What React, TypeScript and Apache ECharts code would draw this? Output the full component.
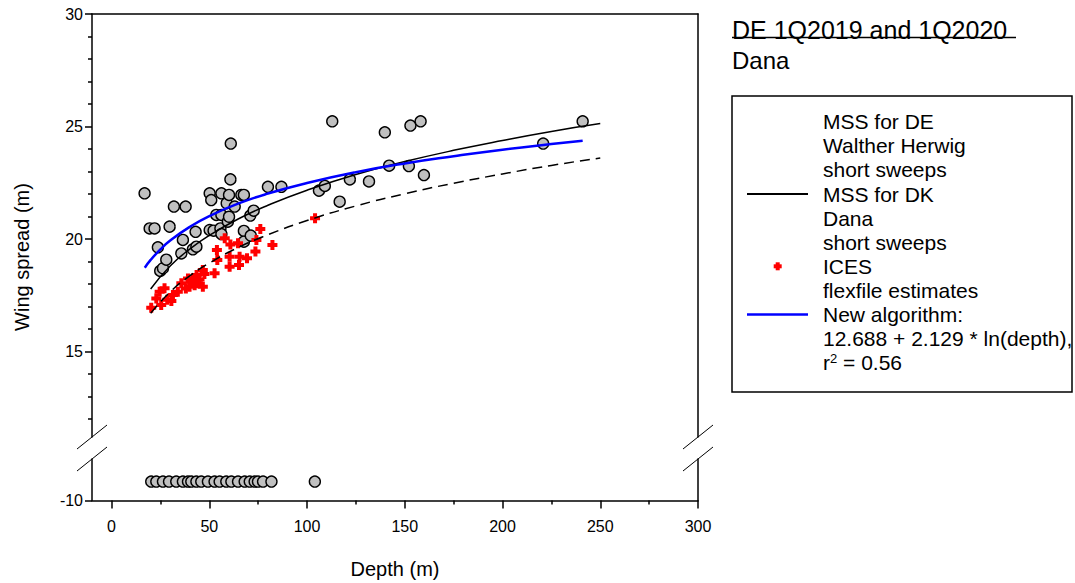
import React, { useEffect, useRef } from "react";
import * as echarts from "echarts";

// ---- data ----
// gray circles: measured wing spread by depth [depth (m), wing spread (m)]
const measuredDepth = [16.9, 19.5, 22.0, 23.7, 24.9, 26.3, 28.0, 29.7, 31.9, 35.7, 36.5, 37.9, 41.6, 43.0, 43.4, 50.2, 51.0, 50.2, 52.2, 53.6, 55.7, 56.2, 56.2, 56.2, 58.9, 59.5, 60.1, 60.1, 60.8, 61.0, 63.0, 66.4, 67.7, 67.7, 67.7, 71.0, 72.7, 71.2, 80.0, 86.9, 106.1, 109.1, 116.7, 112.9, 121.9, 131.7, 139.8, 142.0, 152.1, 152.9, 158.1, 159.8, 220.8, 241.0];
const measuredSpread = [22.03, 20.47, 20.47, 19.63, 18.58, 18.70, 19.08, 20.55, 21.44, 19.36, 19.96, 21.44, 19.54, 20.32, 19.66, 22.03, 21.73, 20.40, 20.37, 21.07, 20.47, 22.03, 21.07, 20.22, 21.59, 20.77, 21.96, 20.99, 22.65, 24.24, 21.44, 21.96, 21.96, 20.36, 19.88, 21.04, 21.26, 20.15, 22.32, 22.32, 22.15, 22.36, 21.66, 25.23, 22.65, 22.56, 24.74, 23.26, 23.24, 25.04, 25.23, 22.84, 24.24, 25.23];

// red crosses: ICES flexfile estimates
const icesDepth = [20.3, 22.9, 24.6, 25.4, 27.1, 28.5, 30.6, 31.4, 33.9, 35.7, 38.0, 39.1, 39.9, 40.5, 41.6, 42.5, 43.5, 44.2, 45.0, 46.7, 46.7, 47.5, 52.7, 53.9, 54.1, 57.9, 60.4, 60.4, 60.8, 64.7, 65.2, 65.5, 69.3, 74.1, 73.6, 76.1, 82.3, 104.1];
const icesSpread = [16.95, 17.36, 17.66, 17.07, 17.81, 17.30, 17.24, 17.51, 17.66, 18.03, 17.80, 18.25, 17.88, 18.10, 18.25, 17.95, 18.40, 18.03, 18.20, 18.62, 17.88, 18.45, 18.48, 19.51, 19.07, 20.03, 19.21, 18.77, 19.76, 19.81, 18.84, 19.21, 19.14, 19.96, 19.44, 20.44, 19.73, 20.92];

// hauls without a measured wing spread (plotted below the axis break)
const missingDepth = [20.3, 22.9, 26.3, 29.4, 33.1, 36.5, 39.1, 40.8, 43.4, 45.9, 49.3, 52.7, 55.3, 58.7, 61.3, 64.7, 68.1, 70.7, 73.2, 74.9, 77.5, 81.8, 104.0];
const missingLevel = -9.16;

// curves
const curveDepth = [20, 30, 40, 50, 65, 80, 100, 125, 150, 175, 200, 225, 250];
const mssDE = [17.78, 18.80, 19.55, 20.16, 20.90, 21.50, 22.17, 22.87, 23.44, 23.94, 24.38, 24.78, 25.13];
const mssDK = [16.70, 17.65, 18.36, 18.93, 19.63, 20.19, 20.82, 21.47, 22.01, 22.48, 22.89, 23.27, 23.60];
const newDepth = [17, 20, 25, 30, 40, 50, 65, 80, 100, 125, 150, 175, 200, 225, 241];
const newSpread = [18.72, 19.07, 19.54, 19.93, 20.54, 21.02, 21.58, 22.02, 22.49, 22.97, 23.36, 23.68, 23.97, 24.22, 24.37];

// axes
const xMajor = [0, 50, 100, 150, 200, 250, 300];
const xMinor = [25, 75, 125, 175, 225, 275];
const yMajor = [15, 20, 25, 30];
const yMinor = [12, 13, 14, 16, 17, 18, 19, 21, 22, 23, 24, 26, 27, 28, 29];
const yLowerMajor = [-10];

const titleLines = ["DE 1Q2019 and 1Q2020", "Dana"];
const legendLines = [
  "MSS for DE", "Walther Herwig", "short sweeps",
  "MSS for DK", "Dana", "short sweeps",
  "ICES", "flexfile estimates",
  "New algorithm:", "12.688 + 2.129 * ln(depth),",
];

const FONT = "'Liberation Sans', Arial, sans-serif";
const L = 92, R = 698, TOP = 14, UB = 437, LT = 459, BOT = 500.5;
const CROSS = "path://M3,0H7V3H10V7H7V10H3V7H0V3H3Z";

export default function App() {
  const ref = useRef<HTMLDivElement>(null);
  useEffect(() => {
    if (!ref.current) return;
    const chart = echarts.init(ref.current, null, { renderer: "svg" });
    const zip = (a: number[], b: number[]) => a.map((v, i) => [v, b[i]]);
    const black = { color: "#000", width: 1.5 };
    const lbl = { fontSize: 16, color: "#000", fontFamily: FONT };

    const slash = (cx: number, cy: number) => ({
      type: "line", shape: { x1: cx - 15, y1: cy + 12, x2: cx + 15, y2: cy - 12 },
      style: { stroke: "#000", lineWidth: 1 }, z: 100,
    });
    const whiteGap = (cx: number) => ({
      type: "rect", shape: { x: cx - 3, y: UB + 1, width: 6, height: LT - UB - 2 },
      style: { fill: "#fff" }, z: 99,
    });

    const legendX = 823, legendY0 = 121.7, legendStep = 24.1;
    const crossY = legendY0 + 6 * legendStep;
    const graphic: any[] = [
      { type: "text", x: 22, y: 257, rotation: Math.PI / 2,
        style: { text: "Wing spread (m)", fontSize: 20, fontFamily: FONT, fill: "#000", align: "center", verticalAlign: "middle" } },
      { type: "text", x: 732, y: 30, style: { text: titleLines[0], fontSize: 25, fontFamily: FONT, fill: "#000", verticalAlign: "middle" } },
      { type: "line", shape: { x1: 732, y1: 37.5, x2: 1016, y2: 37.5 }, style: { stroke: "#000", lineWidth: 1.5 } },
      { type: "text", x: 732, y: 60, style: { text: titleLines[1], fontSize: 24, fontFamily: FONT, fill: "#000", verticalAlign: "middle" } },
      { type: "rect", shape: { x: 732, y: 96, width: 340, height: 296 }, style: { fill: "none", stroke: "#000", lineWidth: 1.5 } },
      { type: "line", shape: { x1: 747, y1: legendY0 + 3 * legendStep, x2: 808, y2: legendY0 + 3 * legendStep }, style: { stroke: "#000", lineWidth: 2 } },
      { type: "line", shape: { x1: 747, y1: legendY0 + 8 * legendStep, x2: 808, y2: legendY0 + 8 * legendStep }, style: { stroke: "#0000ff", lineWidth: 2.5 } },
      { type: "rect", shape: { x: 775.7, y: crossY - 4, width: 4, height: 8 }, style: { fill: "#ff0000" } },
      { type: "rect", shape: { x: 773.7, y: crossY - 2, width: 8, height: 4 }, style: { fill: "#ff0000" } },
      ...legendLines.map((t, i) => ({
        type: "text", x: legendX, y: legendY0 + i * legendStep,
        style: { text: t, fontSize: 21, fontFamily: FONT, fill: "#000", verticalAlign: "middle" },
      })),
      { type: "text", x: legendX, y: legendY0 + 10 * legendStep,
        style: { text: "{n|r}{s|2}{n| = 0.56}", fontFamily: FONT, fill: "#000", verticalAlign: "middle",
          rich: { n: { fontSize: 21, fontFamily: FONT, fill: "#000" }, s: { fontSize: 13, fontFamily: FONT, fill: "#000", verticalAlign: "top" } } } },
      whiteGap(L), whiteGap(R),
      slash(L, UB), slash(L, LT), slash(R, UB), slash(R, LT),
    ];

    const option: any = {
      animation: false,
      textStyle: { fontFamily: FONT },
      grid: [
        { left: L, top: TOP, width: R - L, height: UB - TOP, containLabel: false, outerBoundsMode: "none" },
        { left: L, top: LT, width: R - L, height: BOT - LT, containLabel: false, outerBoundsMode: "none" },
      ],
      xAxis: [
        { gridIndex: 0, type: "value", position: "top", min: -10, max: 300,
          axisLine: { show: true, onZero: false, lineStyle: black }, axisTick: { show: false }, axisLabel: { show: false }, splitLine: { show: false } },
        { gridIndex: 1, type: "value", position: "bottom", min: -10, max: 300,
          axisLine: { show: true, onZero: false, lineStyle: black },
          axisTick: { show: true, inside: false, length: 8, customValues: xMajor, lineStyle: black },
          axisLabel: { show: true, customValues: xMajor, margin: 18, ...lbl },
          splitLine: { show: false },
          name: "Depth (m)", nameLocation: "middle", nameGap: 58, nameTextStyle: { fontSize: 20, color: "#000", fontFamily: FONT } },
        { gridIndex: 1, type: "value", position: "bottom", min: -10, max: 300,
          axisLine: { show: false, onZero: false },
          axisTick: { show: true, inside: false, length: 4, customValues: xMinor, lineStyle: black },
          axisLabel: { show: false }, splitLine: { show: false } },
      ],
      yAxis: [
        { gridIndex: 0, type: "value", position: "left", min: 11.2, max: 30,
          axisLine: { show: true, onZero: false, lineStyle: black },
          axisTick: { show: true, inside: false, length: 4, customValues: yMinor, lineStyle: black },
          axisLabel: { show: false }, splitLine: { show: false } },
        { gridIndex: 0, type: "value", position: "left", min: 11.2, max: 30,
          axisLine: { show: false, onZero: false },
          axisTick: { show: true, inside: false, length: 7, customValues: yMajor, lineStyle: black },
          axisLabel: { show: true, customValues: yMajor, margin: 9, ...lbl }, splitLine: { show: false } },
        { gridIndex: 0, type: "value", position: "right", min: 11.2, max: 30,
          axisLine: { show: true, onZero: false, lineStyle: black }, axisTick: { show: false }, axisLabel: { show: false }, splitLine: { show: false } },
        { gridIndex: 1, type: "value", position: "left", min: -10, max: -8.16,
          axisLine: { show: true, onZero: false, lineStyle: black },
          axisTick: { show: true, inside: false, length: 7, customValues: yLowerMajor, lineStyle: black },
          axisLabel: { show: true, customValues: yLowerMajor, margin: 9, ...lbl }, splitLine: { show: false } },
        { gridIndex: 1, type: "value", position: "right", min: -10, max: -8.16,
          axisLine: { show: true, onZero: false, lineStyle: black }, axisTick: { show: false }, axisLabel: { show: false }, splitLine: { show: false } },
      ],
      series: [
        { name: "Measured", type: "scatter", xAxisIndex: 0, yAxisIndex: 0, data: zip(measuredDepth, measuredSpread),
          symbol: "circle", symbolSize: 11, itemStyle: { color: "#c0c0c0", borderColor: "#000", borderWidth: 1.4, opacity: 1 }, z: 2 },
        { name: "ICES flexfile estimates", type: "scatter", xAxisIndex: 0, yAxisIndex: 0, data: zip(icesDepth, icesSpread),
          symbol: CROSS, symbolSize: 10, itemStyle: { color: "#ff0000", opacity: 1 }, z: 3 },
        { name: "MSS for DE", type: "line", xAxisIndex: 0, yAxisIndex: 0, data: zip(curveDepth, mssDE), smooth: true,
          symbol: "none", showSymbol: false, lineStyle: { color: "#000", width: 1.5 }, z: 4 },
        { name: "MSS for DK", type: "line", xAxisIndex: 0, yAxisIndex: 0, data: zip(curveDepth, mssDK), smooth: true,
          symbol: "none", showSymbol: false, lineStyle: { color: "#000", width: 1.5, type: [10, 6] }, z: 4 },
        { name: "New algorithm", type: "line", xAxisIndex: 0, yAxisIndex: 0, data: zip(newDepth, newSpread), smooth: true,
          symbol: "none", showSymbol: false, lineStyle: { color: "#0000ff", width: 2.5 }, z: 5 },
        { name: "Missing", type: "scatter", xAxisIndex: 1, yAxisIndex: 3, data: missingDepth.map((d) => [d, missingLevel]),
          symbol: "circle", symbolSize: 11, itemStyle: { color: "#c0c0c0", borderColor: "#000", borderWidth: 1.4, opacity: 1 } },
      ],
      graphic,
    };
    chart.setOption(option);
    return () => chart.dispose();
  }, []);
  return <div ref={ref} style={{ position: "absolute", left: 0, top: 0, width: 1075, height: 583, background: "#fff" }} />;
}
